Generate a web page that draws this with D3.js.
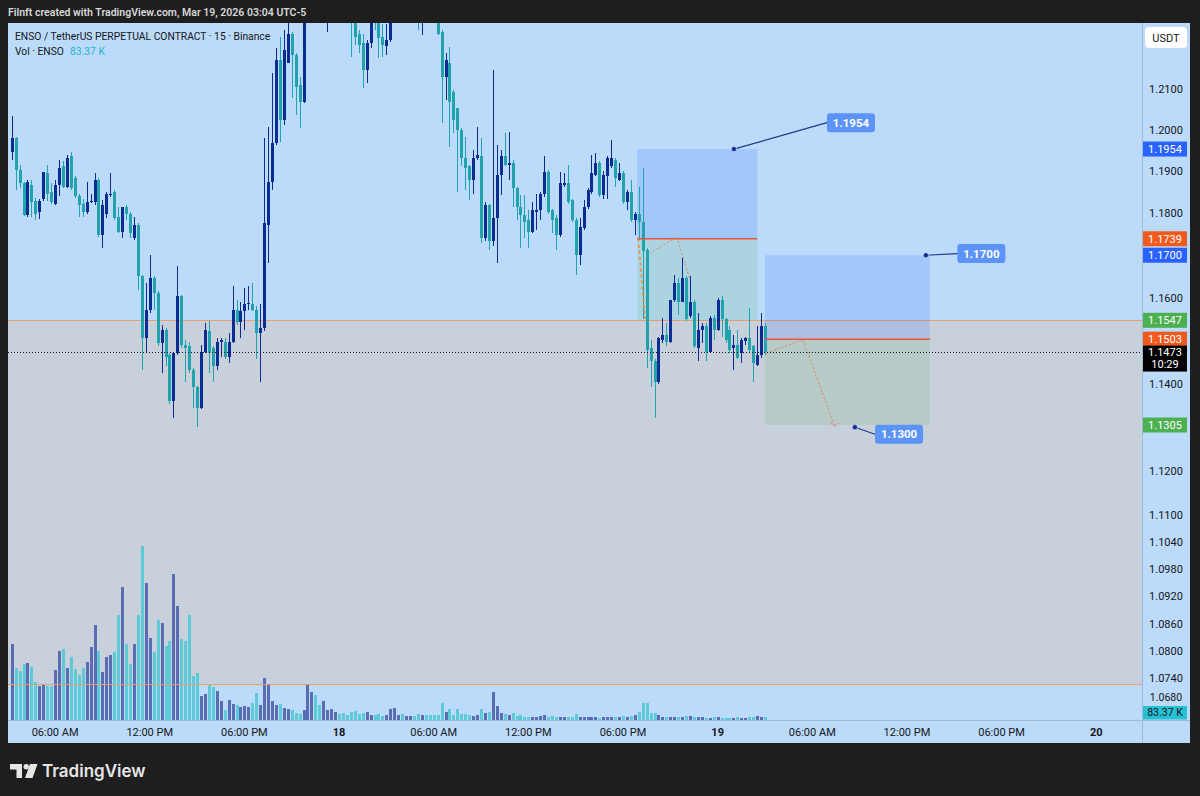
<!DOCTYPE html>
<html><head><meta charset="utf-8">
<script src="https://cdn.jsdelivr.net/npm/d3@7"></script>
<style>
html,body{margin:0;padding:0;background:#1e1e1e;}
svg{display:block;}
</style></head><body>
<svg id="c" width="1200" height="796"></svg>
<script>
// ---------------- DATA ----------------
// 15-minute candles, first bar Mar 17 2026 03:15 (UTC-5 chart time), last bar Mar 19 03:00
const firstBar = "2026-03-17T03:15:00Z";
const opens = [
1.1948,1.1980,1.1904,1.1872,1.1795,1.1867,1.1829,1.1803,1.1835,1.1896,
1.1851,1.1823,1.1867,1.1912,1.1863,1.1936,1.1884,1.1840,1.1823,1.1803,
1.1827,1.1827,1.1880,1.1748,1.1799,1.1843,1.1851,1.1791,1.1756,1.1815,
1.1799,1.1741,1.1772,1.1650,1.1505,1.1572,1.1647,1.1611,1.1494,1.1525,
1.1466,1.1361,1.1470,1.1603,1.1490,1.1486,1.1431,1.1392,1.1345,1.1474,
1.1521,1.1482,1.1440,1.1497,1.1497,1.1462,1.1497,1.1572,1.1544,1.1568,
1.1584,1.1584,1.1572,1.1517,1.1529,1.1772,1.1875,1.1968,1.2172,1.2024,
1.2165,1.2236,1.2184,1.2110,1.2069,1.2300,1.2350,1.2390,1.2360,1.2320,
1.2300,1.2340,1.2380,1.2420,1.2400,1.2350,1.2330,1.2290,1.2236,1.2212,
1.2147,1.2212,1.2290,1.2275,1.2229,1.2206,1.2221,1.2275,1.2310,1.2350,
1.2320,1.2340,1.2370,1.2330,1.2300,1.2320,1.2300,1.2290,1.2268,1.2240,
1.2130,1.2163,1.2093,1.2053,1.2000,1.1932,1.1912,1.1880,1.1932,1.1936,
1.1741,1.1819,1.1733,1.1788,1.1892,1.1936,1.1916,1.1920,1.1859,1.1815,
1.1795,1.1784,1.1756,1.1803,1.1807,1.1847,1.1899,1.1807,1.1788,1.1748,
1.1867,1.1872,1.1831,1.1784,1.1701,1.1764,1.1815,1.1851,1.1892,1.1920,
1.1843,1.1888,1.1912,1.1928,1.1880,1.1896,1.1827,1.1851,1.1784,1.1799,
1.1780,1.1713,1.1482,1.1452,1.1403,1.1502,1.1513,1.1497,1.1595,1.1635,
1.1591,1.1646,1.1556,1.1591,1.1482,1.1525,1.1533,1.1474,1.1552,1.1525,
1.1595,1.1549,1.1525,1.1482,1.1490,1.1471,1.1498,1.1505,1.1486,1.1444,
1.1466,1.1533];
const highs = [
1.2033,1.1984,1.1916,1.1875,1.1880,1.1880,1.1837,1.1835,1.1899,1.1916,
1.1872,1.1880,1.1928,1.1924,1.1940,1.1948,1.1888,1.1847,1.1835,1.1875,
1.1847,1.1896,1.1884,1.1831,1.1851,1.1896,1.1855,1.1815,1.1815,1.1819,
1.1803,1.1791,1.1776,1.1654,1.1635,1.1701,1.1650,1.1615,1.1537,1.1529,
1.1470,1.1474,1.1674,1.1607,1.1501,1.1497,1.1435,1.1395,1.1490,1.1541,
1.1545,1.1486,1.1505,1.1505,1.1505,1.1517,1.1627,1.1595,1.1591,1.1623,
1.1627,1.1635,1.1580,1.1584,1.1980,1.2008,1.2139,1.2200,1.2229,1.2245,
1.2290,1.2241,1.2188,1.2130,1.2330,1.2380,1.2420,1.2450,1.2400,1.2360,
1.2370,1.2400,1.2460,1.2480,1.2430,1.2380,1.2350,1.2300,1.2245,1.2236,
1.2220,1.2300,1.2310,1.2290,1.2260,1.2260,1.2300,1.2330,1.2370,1.2380,
1.2360,1.2390,1.2400,1.2350,1.2360,1.2350,1.2330,1.2310,1.2280,1.2245,
1.2188,1.2204,1.2098,1.2053,1.2004,1.1984,1.1916,1.1952,1.2008,1.1980,
1.1827,1.1823,1.2147,1.1964,1.1952,1.1992,1.1996,1.1928,1.1863,1.1843,
1.1843,1.1807,1.1827,1.1847,1.1851,1.1936,1.1904,1.1811,1.1795,1.1899,
1.1896,1.1916,1.1835,1.1788,1.1788,1.1831,1.1859,1.1940,1.1944,1.1924,
1.1900,1.1936,1.1976,1.1932,1.1920,1.1900,1.1855,1.1880,1.1803,1.1863,
1.1908,1.1717,1.1502,1.1456,1.1509,1.1552,1.1541,1.1595,1.1654,1.1646,
1.1694,1.1650,1.1650,1.1595,1.1564,1.1541,1.1541,1.1556,1.1560,1.1599,
1.1603,1.1552,1.1533,1.1513,1.1525,1.1505,1.1509,1.1576,1.1490,1.1533,
1.1564,1.1541];
const lows = [
1.1928,1.1855,1.1859,1.1793,1.1791,1.1791,1.1784,1.1785,1.1830,1.1830,
1.1823,1.1819,1.1840,1.1859,1.1859,1.1855,1.1836,1.1791,1.1791,1.1799,
1.1824,1.1820,1.1744,1.1717,1.1788,1.1839,1.1784,1.1752,1.1741,1.1784,
1.1741,1.1737,1.1619,1.1431,1.1474,1.1564,1.1572,1.1486,1.1424,1.1440,
1.1353,1.1322,1.1466,1.1482,1.1403,1.1424,1.1345,1.1300,1.1342,1.1470,
1.1424,1.1403,1.1431,1.1462,1.1458,1.1447,1.1494,1.1537,1.1505,1.1525,
1.1572,1.1568,1.1456,1.1403,1.1521,1.1682,1.1855,1.1964,1.1972,1.2012,
1.2163,1.2078,1.2037,1.2004,1.2065,1.2280,1.2310,1.2340,1.2300,1.2290,
1.2240,1.2300,1.2350,1.2370,1.2330,1.2290,1.2179,1.2209,1.2188,1.2102,
1.2114,1.2200,1.2245,1.2177,1.2179,1.2184,1.2215,1.2270,1.2290,1.2300,
1.2290,1.2310,1.2320,1.2246,1.2234,1.2280,1.2275,1.2268,1.2232,1.2016,
1.2073,1.1960,1.1992,1.1851,1.1912,1.1855,1.1831,1.1847,1.1928,1.1729,
1.1733,1.1713,1.1721,1.1682,1.1843,1.1912,1.1880,1.1815,1.1784,1.1717,
1.1741,1.1717,1.1752,1.1760,1.1784,1.1839,1.1799,1.1752,1.1713,1.1744,
1.1863,1.1823,1.1780,1.1654,1.1678,1.1760,1.1811,1.1847,1.1888,1.1839,
1.1835,1.1835,1.1908,1.1863,1.1876,1.1823,1.1807,1.1780,1.1748,1.1737,
1.1549,1.1435,1.1392,1.1322,1.1400,1.1494,1.1486,1.1494,1.1591,1.1560,
1.1591,1.1545,1.1552,1.1482,1.1452,1.1494,1.1452,1.1470,1.1502,1.1521,
1.1509,1.1494,1.1470,1.1431,1.1456,1.1447,1.1490,1.1471,1.1403,1.1440,
1.1459,1.1466];
const closes = [
1.1980,1.1904,1.1872,1.1795,1.1875,1.1827,1.1799,1.1829,1.1899,1.1847,
1.1827,1.1867,1.1908,1.1863,1.1932,1.1859,1.1840,1.1820,1.1803,1.1827,
1.1829,1.1880,1.1748,1.1819,1.1847,1.1847,1.1788,1.1756,1.1815,1.1799,
1.1752,1.1772,1.1650,1.1505,1.1572,1.1647,1.1611,1.1494,1.1525,1.1462,
1.1361,1.1470,1.1603,1.1490,1.1482,1.1431,1.1392,1.1345,1.1474,1.1525,
1.1470,1.1440,1.1497,1.1501,1.1462,1.1497,1.1572,1.1544,1.1568,1.1584,
1.1588,1.1572,1.1517,1.1529,1.1776,1.1875,1.1968,1.2172,1.2024,1.2196,
1.2236,1.2184,1.2106,1.2069,1.2300,1.2350,1.2390,1.2360,1.2320,1.2340,
1.2340,1.2380,1.2420,1.2400,1.2350,1.2330,1.2275,1.2229,1.2209,1.2147,
1.2212,1.2270,1.2270,1.2226,1.2209,1.2221,1.2275,1.2310,1.2350,1.2320,
1.2340,1.2370,1.2330,1.2300,1.2320,1.2300,1.2290,1.2280,1.2236,1.2130,
1.2172,1.2069,1.2024,1.2000,1.1932,1.1908,1.1880,1.1932,1.1940,1.1741,
1.1819,1.1733,1.1788,1.1892,1.1936,1.1916,1.1920,1.1859,1.1815,1.1795,
1.1780,1.1756,1.1807,1.1807,1.1847,1.1899,1.1803,1.1784,1.1748,1.1872,
1.1873,1.1827,1.1784,1.1701,1.1768,1.1815,1.1855,1.1896,1.1920,1.1843,
1.1892,1.1932,1.1932,1.1884,1.1896,1.1827,1.1851,1.1784,1.1799,1.1780,
1.1709,1.1479,1.1452,1.1403,1.1505,1.1513,1.1497,1.1595,1.1635,1.1591,
1.1646,1.1549,1.1591,1.1486,1.1525,1.1533,1.1474,1.1552,1.1525,1.1595,
1.1549,1.1502,1.1479,1.1490,1.1459,1.1502,1.1505,1.1479,1.1447,1.1466,
1.1533,1.1473];
// volume in thousands of ENSO
const volumes = [
2498,1726,1617,1838,1871,1759,1264,1122,1188,1122,1110,
1650,2287,2343,1706,2089,1673,1485,1706,1924,2399,
3135,2287,1574,2069,2145,2234,3465,4379,2498,1848,
2508,3465,5742,4511,2716,2234,3300,3191,2452,2607,
4818,3762,2663,2607,3465,1462,1541,802,858,1155,
1099,957,637,330,660,528,495,419,462,419,
551,901,495,1376,1188,637,495,518,386,353,
330,221,198,330,1188,914,825,495,627,330,
353,254,198,221,165,274,307,198,221,274,
165,165,198,142,165,353,386,165,198,132,
132,132,198,165,165,165,165,165,551,254,
363,165,353,198,198,165,142,165,353,221,
254,914,472,221,198,165,221,142,165,109,
109,89,89,132,165,109,132,109,109,89,
109,89,198,89,89,89,109,89,56,89,
109,89,109,89,132,89,132,165,274,571,
571,221,241,165,109,89,89,109,89,109,
132,132,89,109,89,56,56,89,89,56,
56,56,56,89,56,56,89,109,132,109,83.37];

const priceTicks = [1.21,1.20,1.19,1.18,1.16,1.14,1.12,1.11,1.104,1.098,1.092,1.086,1.08,1.074,1.068];
const timeTickTimes = ["2026-03-17T06:00Z","2026-03-17T12:00Z","2026-03-17T18:00Z","2026-03-18T00:00Z",
  "2026-03-18T06:00Z","2026-03-18T12:00Z","2026-03-18T18:00Z","2026-03-19T00:00Z",
  "2026-03-19T06:00Z","2026-03-19T12:00Z","2026-03-19T18:00Z","2026-03-20T00:00Z"];
const timeTickLabels = ["06:00 AM","12:00 PM","06:00 PM","18","06:00 AM","12:00 PM","06:00 PM","19","06:00 AM","12:00 PM","06:00 PM","20"];

// horizontal zone
const zonePrices = [1.1547, 1.0728];
// short position tools: [start, end], prices [stop, entry, target]
const positionTimes = [["2026-03-18T18:54Z","2026-03-19T02:31Z"],["2026-03-19T03:00Z","2026-03-19T13:27Z"]];
const positionPrices = [[1.1954,1.1739,1.1547],[1.1700,1.1503,1.1305]];
// trajectory lines of the position tools
const path1Times = ["2026-03-18T19:42Z","2026-03-18T21:25Z","2026-03-18T22:15Z"];
const path1Prices = [1.1705,1.1743,1.1641];
const exit1Times = ["2026-03-18T18:58Z","2026-03-18T19:24Z"];
const exit1Prices = [1.1739,1.1550];
const path2Times = ["2026-03-19T03:06Z","2026-03-19T05:24Z","2026-03-19T07:25Z"];
const path2Prices = [1.1470,1.1502,1.1302];
// callouts
const calloutTexts = ["1.1954","1.1700","1.1300"];
const calloutPointTimes = ["2026-03-19T01:02Z","2026-03-19T13:12Z","2026-03-19T08:42Z"];
const calloutPointPrices = [1.1954,1.1700,1.1300];
const calloutLabelTimes = ["2026-03-19T08:27Z","2026-03-19T16:43Z","2026-03-19T11:30Z"];
const calloutLabelPrices = [1.2018,1.1704,1.1284];
// price scale labels
const axisLabelValues = [1.1954,1.1739,1.1700,1.1547,1.1503,1.1305];
const axisLabelColors = ["#2962ff","#f05a1e","#2962ff","#4caf50","#f05a1e","#4caf50"];
const lastPrice = 1.1473, countdown = "10:29", lastVolumeText = "83.37 K";

// ---------------- LAYOUT ----------------
const W=1200, H=796, PL=8, PR=1142, PT=23, PB=720, AR=1190, TB=743;
const FONT = "Roboto, 'Open Sans', 'Liberation Sans', sans-serif";
const UP="#0b2c93", DN="#21a3ad", VUP="#5a6cb4", VDN="#5ecad8";
const svg = d3.select("#c");

const x = d3.scaleUtc().domain([new Date("2026-03-17T03:00:54Z"), new Date("2026-03-20T02:54:00Z")]).range([PL,PR]);
const y = d3.scaleLog().domain([1.06502,1.22627]).range([PB,PT]);
const yV = d3.scaleLinear().domain([0,6600]).range([PB,PB-200]);

const t0 = new Date(firstBar).getTime();
const data = opens.map((o,i)=>({t:new Date(t0+i*900000),o,h:highs[i],l:lows[i],c:closes[i],v:volumes[i]}));

svg.append("rect").attr("width",W).attr("height",H).attr("fill","#1e1e1e");
svg.append("text").attr("x",8).attr("y",15.5).attr("fill","#d8d8d8")
  .attr("font-family",FONT).attr("font-size",10.5).attr("font-weight",600)
  .text("Filnft created with TradingView.com, Mar 19, 2026 03:04 UTC-5");

svg.append("rect").attr("x",PL).attr("y",PT).attr("width",AR-PL).attr("height",TB-PT).attr("fill","#bcdaf9");

const defs = svg.append("defs");
defs.append("clipPath").attr("id","clip").append("rect").attr("x",PL).attr("y",PT).attr("width",PR-PL).attr("height",PB-PT);
const g = svg.append("g").attr("clip-path","url(#clip)");

// grey zone
g.append("rect").attr("x",PL).attr("width",PR-PL)
  .attr("y",y(zonePrices[0])).attr("height",y(zonePrices[1])-y(zonePrices[0])).attr("fill","#c8d0db");

// volume
g.append("g").attr("shape-rendering","crispEdges").selectAll("rect").data(data).join("rect")
  .attr("x",d=>Math.round(x(d.t))-1).attr("width",3)
  .attr("y",d=>yV(d.v)).attr("height",d=>Math.max(1,PB-yV(d.v)))
  .attr("fill",d=>d.c>=d.o?VUP:VDN);

// zone borders
zonePrices.forEach(p=>{
  g.append("line").attr("x1",PL).attr("x2",PR).attr("y1",Math.round(y(p))+0.5).attr("y2",Math.round(y(p))+0.5)
    .attr("stroke","#e8a070").attr("stroke-width",1);
});

// position tools
positionTimes.forEach((pt,i)=>{
  const x0=x(new Date(pt[0])), x1=x(new Date(pt[1]));
  const [s,e,tg]=positionPrices[i];
  g.append("rect").attr("x",x0).attr("width",x1-x0).attr("y",y(s)).attr("height",y(e)-y(s)).attr("fill","rgba(41,98,255,0.16)");
  g.append("rect").attr("x",x0).attr("width",x1-x0).attr("y",y(e)).attr("height",y(tg)-y(e)).attr("fill","rgba(76,175,80,0.14)");
});

// candles
const cg = g.append("g").attr("shape-rendering","crispEdges");
cg.selectAll("rect.w").data(data).join("rect").attr("class","w")
  .attr("x",d=>Math.round(x(d.t))).attr("width",1)
  .attr("y",d=>y(d.h)).attr("height",d=>Math.max(1,y(d.l)-y(d.h)))
  .attr("fill",d=>d.c>=d.o?UP:DN);
cg.selectAll("rect.b").data(data).join("rect").attr("class","b")
  .attr("x",d=>Math.round(x(d.t))-1).attr("width",3)
  .attr("y",d=>y(Math.max(d.o,d.c))).attr("height",d=>Math.max(1,Math.abs(y(d.o)-y(d.c))))
  .attr("fill",d=>d.c>=d.o?UP:DN);

// entry lines
positionTimes.forEach((pt,i)=>{
  const x0=x(new Date(pt[0])), x1=x(new Date(pt[1]));
  g.append("line").attr("x1",x0).attr("x2",x1).attr("y1",y(positionPrices[i][1])).attr("y2",y(positionPrices[i][1]))
   .attr("stroke","#e8553a").attr("stroke-width",1.4);
});
// trajectories
const ln = d3.line().x(d=>x(new Date(d[0]))).y(d=>y(d[1]));
g.append("path").attr("d",ln(path1Times.map((t,i)=>[t,path1Prices[i]]))).attr("fill","none")
  .attr("stroke","#e86a5a").attr("stroke-width",1).attr("stroke-dasharray","2,2").attr("opacity",0.8);
g.append("path").attr("d",ln(exit1Times.map((t,i)=>[t,exit1Prices[i]]))).attr("fill","none")
  .attr("stroke","#f08a30").attr("stroke-width",1.6).attr("stroke-dasharray","3,3");
g.append("path").attr("d",ln(path2Times.map((t,i)=>[t,path2Prices[i]]))).attr("fill","none")
  .attr("stroke","#e86a5a").attr("stroke-width",1).attr("stroke-dasharray","2,2").attr("opacity",0.8);
{
  const ex=x(new Date(path2Times[2])), ey=y(path2Prices[2]);
  g.append("path").attr("d",`M${ex-4},${ey-3}L${ex},${ey}L${ex+4},${ey-3}`).attr("fill","none")
   .attr("stroke","#e86a5a").attr("stroke-width",1).attr("stroke-dasharray","1.5,1.5");
}

// last price dotted line
g.append("line").attr("x1",PL).attr("x2",PR).attr("y1",Math.round(y(lastPrice))+0.5).attr("y2",Math.round(y(lastPrice))+0.5)
  .attr("stroke","#131722").attr("stroke-width",1).attr("stroke-dasharray","1,2");

// callouts
calloutTexts.forEach((txt,i)=>{
  const px=x(new Date(calloutPointTimes[i])), py=y(calloutPointPrices[i]);
  const lx=x(new Date(calloutLabelTimes[i])), ly=y(calloutLabelPrices[i]);
  const bw=48, bh=19;
  g.append("line").attr("x1",px).attr("y1",py).attr("x2",lx-bw/2).attr("y2",ly).attr("stroke","#1d3a8a").attr("stroke-width",1.2);
  g.append("circle").attr("cx",px).attr("cy",py).attr("r",2.6).attr("fill","#0d2e91").attr("stroke","#dfe9ff").attr("stroke-width",0.6);
  g.append("rect").attr("x",lx-bw/2).attr("y",ly-bh/2).attr("width",bw).attr("height",bh).attr("rx",3).attr("fill","#5c93f6");
  g.append("text").attr("x",lx).attr("y",ly+4).attr("text-anchor","middle").attr("fill","#ffffff")
   .attr("font-family",FONT).attr("font-size",11.5).attr("font-weight",700).text(txt);
});

// axes separators
svg.append("line").attr("x1",PR+0.5).attr("x2",PR+0.5).attr("y1",PT).attr("y2",TB).attr("stroke","#9fb9d8");
svg.append("line").attr("x1",PL).attr("x2",AR).attr("y1",PB+0.5).attr("y2",PB+0.5).attr("stroke","#9fb9d8");

// price axis ticks (lowest one nudged up so it stays clear of the volume label)
svg.append("g").selectAll("text").data(priceTicks).join("text")
  .attr("x",1166).attr("y",d=>Math.min(y(d)+4, PB-19))
  .attr("text-anchor","middle")
  .attr("font-family",FONT).attr("font-size",d=>y(d)+4>PB-19?10.5:11).attr("fill","#131722")
  .text(d=>d3.format(".4f")(d));

// USDT box
svg.append("rect").attr("x",1145).attr("y",27).attr("width",42).attr("height",21).attr("rx",4).attr("fill","#ffffff");
svg.append("text").attr("x",1166).attr("y",41.5).attr("text-anchor","middle").attr("font-family",FONT)
  .attr("font-size",11).attr("fill","#131722").text("USDT");

// colored price labels
axisLabelValues.forEach((v,i)=>{
  const cy=y(v);
  svg.append("rect").attr("x",PR+1).attr("y",cy-7.5).attr("width",44).attr("height",15).attr("fill",axisLabelColors[i]);
  svg.append("text").attr("x",PR+23).attr("y",cy+4).attr("text-anchor","middle").attr("font-family",FONT)
   .attr("font-size",11).attr("fill","#ffffff").text(d3.format(".4f")(v));
});
{
  const cy=y(lastPrice);
  svg.append("rect").attr("x",PR+1).attr("y",cy-6.5).attr("width",44).attr("height",26).attr("fill","#000000");
  svg.append("text").attr("x",PR+23).attr("y",cy+4).attr("text-anchor","middle").attr("font-family",FONT)
   .attr("font-size",11).attr("fill","#ffffff").text(d3.format(".4f")(lastPrice));
  svg.append("text").attr("x",PR+23).attr("y",cy+16).attr("text-anchor","middle").attr("font-family",FONT)
   .attr("font-size",11).attr("fill","#ffffff").text(countdown);
}
svg.append("rect").attr("x",PR+1).attr("y",PB-14).attr("width",44).attr("height",13.5).attr("fill","#26bfd3");
svg.append("text").attr("x",PR+23).attr("y",PB-3.8).attr("text-anchor","middle").attr("font-family",FONT)
  .attr("font-size",10.5).attr("fill","#131722").text(lastVolumeText);

// time axis
svg.append("g").selectAll("text").data(timeTickTimes).join("text")
  .attr("x",d=>x(new Date(d))).attr("y",735.5).attr("text-anchor","middle")
  .attr("font-family",FONT).attr("font-size",11).attr("fill","#131722")
  .attr("font-weight",(d,i)=>/^\d+$/.test(timeTickLabels[i])?700:400)
  .text((d,i)=>timeTickLabels[i]);

// legend
svg.append("text").attr("x",15).attr("y",40).attr("font-family",FONT).attr("font-size",10.3).attr("fill","#131722")
  .text("ENSO / TetherUS PERPETUAL CONTRACT · 15 · Binance");
const vt = svg.append("text").attr("x",15).attr("y",54.5).attr("font-family",FONT).attr("font-size",10.3).attr("fill","#131722");
vt.append("tspan").text("Vol · ENSO");
vt.append("tspan").attr("x",70).attr("fill","#22b7cc").text(lastVolumeText);

// footer logo
const lg = svg.append("g").attr("fill","#e6e6e6");
lg.append("path").attr("d","M10,764H22V778H16.5V769.5H10Z");
lg.append("circle").attr("cx",26.2).attr("cy",766.8).attr("r",2.7);
lg.append("path").attr("d","M30,764H37.5L32.5,778H25Z");
svg.append("text").attr("x",42).attr("y",777).attr("font-family","Inter, Roboto, sans-serif").attr("font-size",17)
  .attr("font-weight",600).attr("fill","#e6e6e6").text("TradingView");
</script>
</body></html>
